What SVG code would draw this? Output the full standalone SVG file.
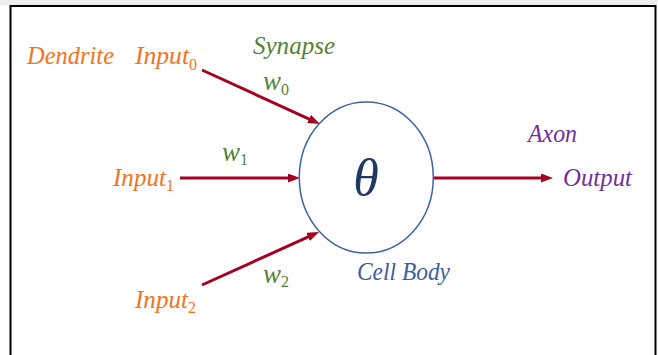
<svg xmlns="http://www.w3.org/2000/svg" width="658" height="355" viewBox="0 0 658 355">
<style>
text{font-family:"Liberation Serif","DejaVu Serif",serif;font-style:italic;font-size:25px}
.sub{font-size:16px;font-style:normal}
.w{font-size:27px}
.or{fill:#f47320}
.gr{fill:#548235}
.pu{fill:#7030a0}
.bl{fill:#3b5e9c}
.arr{stroke:#a50021;stroke-width:3;fill:none;marker-end:url(#ah)}
</style>
<defs>
<marker id="ah" markerUnits="userSpaceOnUse" markerWidth="13" markerHeight="10" refX="2" refY="4.5" orient="auto">
<path d="M0,0 L12,4.5 L0,9 z" fill="#a50021"/>
</marker>
</defs>
<rect x="0" y="0" width="658" height="355" fill="#ffffff"/>
<rect x="0" y="0" width="658" height="5" fill="#eeeeee"/>
<rect x="10.5" y="6" width="645" height="360" fill="#ffffff" stroke="#000000" stroke-width="2"/>
<g id="connectors">
<line class="arr" x1="202" y1="70" x2="310.9" y2="119.8"/>
<line class="arr" x1="180" y1="178" x2="290" y2="178"/>
<line class="arr" x1="202" y1="285" x2="309.9" y2="236.1"/>
<line class="arr" x1="433" y1="178" x2="543" y2="178"/>
</g>
<g id="cell">
<ellipse cx="366.3" cy="177.5" rx="67" ry="75.5" fill="none" stroke="#3e63a0" stroke-width="1.5"/>
<text x="366" y="195" text-anchor="middle" style="font-size:52px;fill:#1f3864">θ</text>
<text class="bl" x="357" y="280" textLength="93" lengthAdjust="spacingAndGlyphs">Cell Body</text>
</g>
<g id="dendrite">
<text class="or" x="27" y="64" textLength="87" lengthAdjust="spacingAndGlyphs">Dendrite</text>
</g>
<g id="input0">
<text class="or" x="135" y="64"><tspan textLength="54" lengthAdjust="spacingAndGlyphs">Input</tspan><tspan class="sub" dy="6">0</tspan></text>
</g>
<g id="input1">
<text class="or" x="113" y="186"><tspan textLength="53" lengthAdjust="spacingAndGlyphs">Input</tspan><tspan class="sub" dy="5">1</tspan></text>
</g>
<g id="input2">
<text class="or" x="135" y="308"><tspan textLength="53" lengthAdjust="spacingAndGlyphs">Input</tspan><tspan class="sub" dy="5">2</tspan></text>
</g>
<g id="synapse">
<text class="gr" x="253" y="54" textLength="82" lengthAdjust="spacingAndGlyphs">Synapse</text>
</g>
<g id="w0">
<text class="gr w" x="263" y="90">w<tspan class="sub" dy="5">0</tspan></text>
</g>
<g id="w1">
<text class="gr w" x="222" y="161">w<tspan class="sub" dy="4">1</tspan></text>
</g>
<g id="w2">
<text class="gr w" x="263" y="283">w<tspan class="sub" dy="4">2</tspan></text>
</g>
<g id="axon">
<text class="pu" x="528" y="142" textLength="49" lengthAdjust="spacingAndGlyphs">Axon</text>
</g>
<g id="output">
<text class="pu" x="563" y="186" textLength="69" lengthAdjust="spacingAndGlyphs">Output</text>
</g>
</svg>
